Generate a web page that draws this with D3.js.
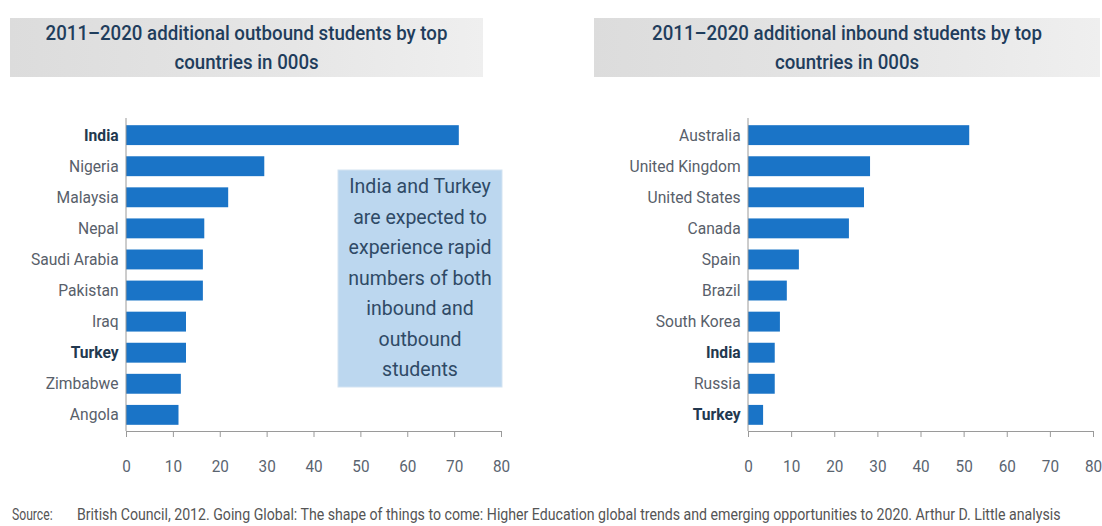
<!DOCTYPE html>
<head>
  <meta charset="utf-8">
  <title>Students</title>
  <script src="https://d3js.org/d3.v7.js"></script>
  <style>
      body { margin: 0; background: #fff; }
      text { font-family: Roboto, "Liberation Sans", sans-serif; }
  </style>
</head>
<body>
<div id="chart"></div>
<script>
    // outbound (left)
    const outCountries = ["India", "Nigeria", "Malaysia", "Nepal", "Saudi Arabia", "Pakistan", "Iraq", "Turkey", "Zimbabwe", "Angola"];
    const outValues = [71, 29.5, 21.8, 16.7, 16.4, 16.4, 12.8, 12.8, 11.7, 11.2];
    // inbound (right)
    const inCountries = ["Australia", "United Kingdom", "United States", "Canada", "Spain", "Brazil", "South Korea", "India", "Russia", "Turkey"];
    const inValues = [51.3, 28.3, 26.9, 23.4, 11.8, 9.0, 7.4, 6.2, 6.2, 3.5];
    const xTicks = [0, 10, 20, 30, 40, 50, 60, 70, 80];
    const highlight = ["India", "Turkey"];

    const outTitle = ["2011–2020 additional outbound students by top", "countries in 000s"];
    const inTitle = ["2011–2020 additional inbound students by top", "countries in 000s"];
    const note = ["India and Turkey", "are expected to", "experience rapid", "numbers of both", "inbound and", "outbound", "students"];

    const W = 1102, H = 526;
    const barColor = "#1a74c7";

    const svg = d3.select("#chart").append("svg")
        .attr("width", W)
        .attr("height", H);

    const defs = svg.append("defs");
    const grad = defs.append("linearGradient").attr("id", "band");
    grad.append("stop").attr("offset", "0%").attr("stop-color", "#dcdcdc");
    grad.append("stop").attr("offset", "60%").attr("stop-color", "#e6e6e6");
    grad.append("stop").attr("offset", "100%").attr("stop-color", "#efefef");

    function panel(cats, vals, title, x0, x1, band) {
        const g = svg.append("g");

        // title band
        g.append("rect")
            .attr("x", band[0]).attr("y", 18)
            .attr("width", band[1] - band[0]).attr("height", 59)
            .attr("fill", "url(#band)");
        const cx = (band[0] + band[1]) / 2;
        title.forEach((t, i) => {
            g.append("text")
                .attr("transform", `translate(${cx},${40 + i * 29}) scale(0.89,1)`)
                .attr("text-anchor", "middle")
                .style("font-size", "21px")
                .style("font-weight", 500)
                .style("fill", "#1f3d5c")
                .text(t);
        });

        const x = d3.scaleLinear().domain([0, 80]).range([x0, x1]);
        const y = d3.scaleBand().domain(cats).range([114, 436])
            .paddingInner(0.36).paddingOuter(0.36);

        // bars
        g.selectAll(".bar")
            .data(cats)
            .join("rect")
            .attr("x", x(0))
            .attr("y", d => y(d))
            .attr("width", (d, i) => x(vals[i]) - x(0))
            .attr("height", y.bandwidth())
            .attr("fill", barColor);

        // x axis
        const ax = g.append("g")
            .attr("transform", "translate(0,431)")
            .call(d3.axisBottom(x).tickValues(xTicks).tickSize(6).tickPadding(23));
        ax.select(".domain").attr("stroke", "#9a9a9a");
        ax.selectAll(".tick line").attr("stroke", "#9a9a9a");
        ax.selectAll(".tick text")
            .attr("transform", "scale(0.9,1)")
            .style("font-size", "17px")
            .style("fill", "#5a6470");

        // y axis
        const ay = g.append("g")
            .attr("transform", `translate(${x0},0)`)
            .call(d3.axisLeft(y).tickSize(0).tickPadding(8));
        ay.select(".domain").attr("d", "M0,118V431").attr("stroke", "#9a9a9a");
        ay.selectAll(".tick text")
            .attr("transform", "scale(0.92,1)")
            .style("font-size", "17px")
            .style("fill", d => highlight.includes(d) ? "#22384f" : "#58606a")
            .style("font-weight", d => highlight.includes(d) ? "bold" : "normal");
        return g;
    }

    panel(outCountries, outValues, outTitle, 126, 501, [10, 483]);
    panel(inCountries, inValues, inTitle, 748, 1093, [594, 1100]);

    // call-out box
    svg.append("rect")
        .attr("x", 338).attr("y", 170)
        .attr("width", 164).attr("height", 217)
        .attr("fill", "#bcd7ef")
        .attr("stroke", "#d3e3f2");
    note.forEach((t, i) => {
        svg.append("text")
            .attr("transform", `translate(420,${193 + i * 30.5}) scale(0.93,1)`)
            .attr("text-anchor", "middle")
            .style("font-size", "21px")
            .style("fill", "#2f4a66")
            .text(t);
    });

    // source
    svg.append("text")
        .attr("transform", "translate(12,520) scale(0.76,1)")
        .style("font-size", "16px")
        .style("fill", "#555")
        .text("Source:");
    svg.append("text")
        .attr("transform", "translate(77,520) scale(0.885,1)")
        .style("font-size", "16px")
        .style("fill", "#555")
        .text("British Council, 2012. Going Global: The shape of things to come: Higher Education global trends and emerging opportunities to 2020. Arthur D. Little analysis");
</script>
</body>
